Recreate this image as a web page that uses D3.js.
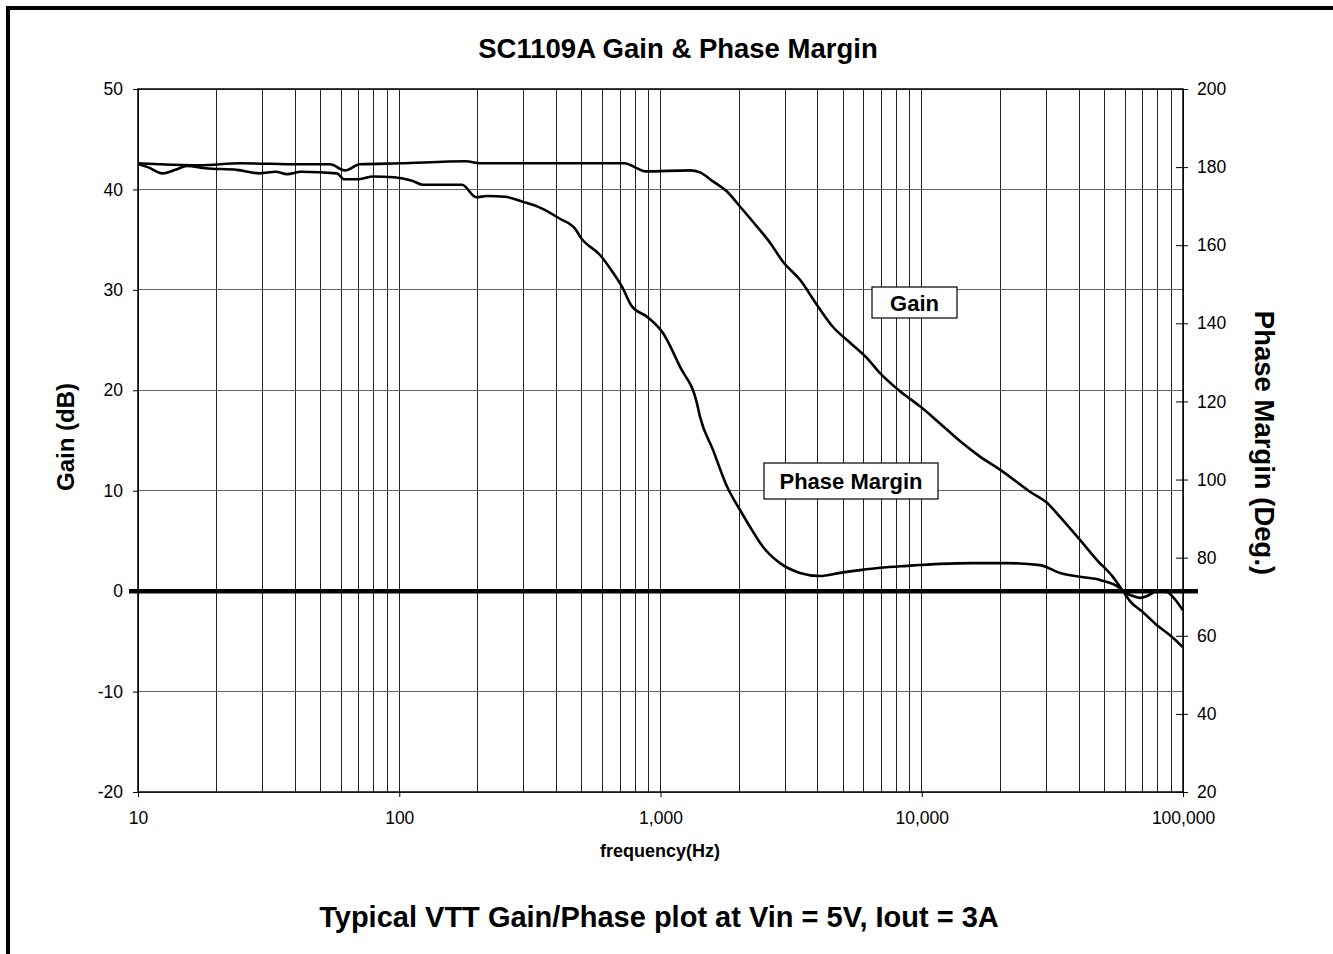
<!DOCTYPE html>
<html>
<head>
<meta charset="utf-8">
<script src="https://cdn.jsdelivr.net/npm/d3@7"></script>
<style>
  body { margin: 0; background: #fff; }
  svg text { font-family: "Liberation Sans", Arial, sans-serif; fill: #000; }
</style>
</head>
<body>
<div id="chart"></div>
<script>
// gain curve (left axis, dB)
var gainFreq = [10, 12.1, 17.3, 24.6, 41.7, 54.3, 62, 70.7, 100.7, 180, 204, 587, 731, 799, 873, 1297, 1416, 1588, 1797, 2015, 2341, 2625, 2943, 3420, 3972, 4574, 5174, 6171, 6923, 8256, 9847, 11745, 14384, 16711, 19930, 25970, 30160, 33820, 40340, 46860, 53970, 58930, 62680, 70300, 79530, 89200, 100000];
var gainDb = [42.6, 42.5, 42.4, 42.6, 42.5, 42.5, 41.9, 42.5, 42.6, 42.8, 42.6, 42.6, 42.6, 42.2, 41.8, 41.9, 41.7, 40.8, 39.8, 38.3, 36.3, 34.7, 32.8, 31.0, 28.5, 26.3, 25.0, 23.2, 21.7, 19.9, 18.4, 16.7, 14.7, 13.4, 12.1, 9.9, 8.8, 7.4, 5.1, 3.1, 1.4, 0, -1.0, -2.1, -3.4, -4.4, -5.6];

// phase margin curve (right axis, degrees)
var phaseFreq = [10, 10.9, 12.4, 14, 15.4, 18.1, 23.9, 29.1, 33.7, 37.2, 42.1, 57.8, 61.4, 70.1, 79.4, 95.5, 112, 123, 174, 197, 217, 254, 298, 349, 409, 475, 492, 587, 641, 712, 778, 888, 1022, 1187, 1379, 1416, 1588, 1797, 2015, 2341, 2404, 2867, 3420, 4078, 4865, 5802, 6923, 8779, 11745, 15713, 21200, 28360, 33820, 40340, 48120, 57400, 58930, 64380, 68460, 72810, 79530, 86860, 91570, 100000];
var phaseDeg = [180.8, 180.0, 178.4, 179.4, 180.3, 179.7, 179.3, 178.4, 178.8, 178.2, 178.8, 178.4, 176.9, 176.9, 177.6, 177.4, 176.5, 175.5, 175.5, 172.3, 172.6, 172.4, 171.1, 169.5, 166.9, 163.9, 162.2, 157.5, 154.1, 149.4, 144.3, 141.7, 137.5, 128.9, 119.5, 116.1, 107.6, 98.2, 92.2, 85.0, 83.8, 78.6, 76.1, 75.3, 76.1, 76.8, 77.4, 77.9, 78.4, 78.6, 78.6, 78.1, 76.1, 75.1, 74.3, 72.2, 71.4, 70.2, 69.7, 70.2, 71.4, 71.2, 69.9, 66.5];

var gainTicks = [-20, -10, 0, 10, 20, 30, 40, 50];
var phaseTicks = [20, 40, 60, 80, 100, 120, 140, 160, 180, 200];
var freqTicks = [10, 100, 1000, 10000, 100000];

function draw() {
    var W = 1333, H = 954;
    var left = 138, right = 1183, top = 89, bottom = 792;

    var svg = d3.select("#chart").append("svg")
        .attr("width", W)
        .attr("height", H);

    // outer frame (top and left only are visible)
    svg.append("line").attr("x1", 6).attr("x2", W).attr("y1", 8).attr("y2", 8)
       .attr("stroke", "#000").attr("stroke-width", 4);
    svg.append("line").attr("x1", 8).attr("x2", 8).attr("y1", 6).attr("y2", H)
       .attr("stroke", "#000").attr("stroke-width", 4);

    var x = d3.scaleLog().domain([10, 100000]).range([left, right]);
    var yL = d3.scaleLinear().domain([-20, 50]).range([bottom, top]);
    var yR = d3.scaleLinear().domain([20, 200]).range([bottom, top]);

    // minor + major vertical grid
    var vgrid = [];
    freqTicks.slice(0, -1).forEach(function(d) {
        for (var k = 1; k <= 9; k++) vgrid.push(d * k);
    });
    vgrid.push(100000);
    svg.append("g").selectAll("line")
       .data(vgrid).enter().append("line")
       .attr("x1", function(d) { return x(d); })
       .attr("x2", function(d) { return x(d); })
       .attr("y1", top).attr("y2", bottom)
       .attr("stroke", "#222").attr("stroke-width", 1)
       .attr("shape-rendering", "crispEdges");

    // horizontal grid
    svg.append("g").selectAll("line")
       .data(gainTicks).enter().append("line")
       .attr("x1", left).attr("x2", right)
       .attr("y1", function(d) { return yL(d); })
       .attr("y2", function(d) { return yL(d); })
       .attr("stroke", "#666").attr("stroke-width", 1)
       .attr("shape-rendering", "crispEdges");

    // plot border
    svg.append("rect")
       .attr("x", left).attr("y", top)
       .attr("width", right - left).attr("height", bottom - top)
       .attr("fill", "none").attr("stroke", "#000").attr("stroke-width", 1.5);

    // left axis
    var gL = svg.append("g").attr("transform", "translate(" + left + ",0)")
       .call(d3.axisLeft(yL).tickValues(gainTicks).tickFormat(function(d) { return String(d); })
             .tickSize(5).tickPadding(10));
    gL.select(".domain").remove();
    gL.selectAll("text").style("font-size", "17.5px");

    // right axis, ticks crossing the axis line
    var gR = svg.append("g").attr("transform", "translate(" + right + ",0)")
       .call(d3.axisRight(yR).tickValues(phaseTicks).tickSize(5).tickPadding(9));
    gR.select(".domain").remove();
    gR.selectAll(".tick line").attr("x1", -7);
    gR.selectAll("text").style("font-size", "17.5px");

    // bottom axis
    var gB = svg.append("g").attr("transform", "translate(0," + bottom + ")")
       .call(d3.axisBottom(x).tickValues(freqTicks).tickFormat(d3.format(",")).tickSize(5).tickPadding(15));
    gB.select(".domain").remove();
    gB.selectAll("text").style("font-size", "17.5px");

    // thick 0 dB line
    svg.append("line")
       .attr("x1", left - 9).attr("x2", right + 15)
       .attr("y1", yL(0)).attr("y2", yL(0))
       .attr("stroke", "#000").attr("stroke-width", 4.5);

    // curves
    var gainLine = d3.line()
        .x(function(d, i) { return x(gainFreq[i]); })
        .y(function(d) { return yL(d); })
        .curve(d3.curveMonotoneX);
    var phaseLine = d3.line()
        .x(function(d, i) { return x(phaseFreq[i]); })
        .y(function(d) { return yR(d); })
        .curve(d3.curveMonotoneX);

    svg.append("path").datum(gainDb)
       .attr("d", gainLine)
       .attr("fill", "none").attr("stroke", "#000").attr("stroke-width", 2.6)
       .attr("stroke-linejoin", "round");
    svg.append("path").datum(phaseDeg)
       .attr("d", phaseLine)
       .attr("fill", "none").attr("stroke", "#000").attr("stroke-width", 2.6)
       .attr("stroke-linejoin", "round");

    // curve labels in boxes
    var boxes = [
        { text: "Gain", x: 872, y: 287, w: 85, h: 31 },
        { text: "Phase Margin", x: 764, y: 463, w: 174, h: 36 }
    ];
    var lab = svg.append("g").selectAll("g").data(boxes).enter().append("g");
    lab.append("rect")
       .attr("x", function(d) { return d.x; }).attr("y", function(d) { return d.y; })
       .attr("width", function(d) { return d.w; }).attr("height", function(d) { return d.h; })
       .attr("fill", "#fff").attr("stroke", "#000").attr("stroke-width", 1.2);
    lab.append("text")
       .attr("x", function(d) { return d.x + d.w / 2; })
       .attr("y", function(d) { return d.y + d.h / 2 + 8; })
       .attr("text-anchor", "middle")
       .style("font-size", "22px").style("font-weight", "bold")
       .text(function(d) { return d.text; });

    // titles
    svg.append("text").attr("x", 678).attr("y", 58)
       .attr("text-anchor", "middle")
       .style("font-size", "27.5px").style("font-weight", "bold")
       .text("SC1109A Gain & Phase Margin");

    svg.append("text").attr("x", 660).attr("y", 857)
       .attr("text-anchor", "middle")
       .style("font-size", "18px").style("font-weight", "bold")
       .text("frequency(Hz)");

    svg.append("text").attr("x", 659).attr("y", 927)
       .attr("text-anchor", "middle")
       .style("font-size", "29px").style("font-weight", "bold")
       .text("Typical VTT Gain/Phase plot at Vin = 5V, Iout = 3A");

    svg.append("text")
       .attr("transform", "translate(74,437) rotate(-90)")
       .attr("text-anchor", "middle")
       .style("font-size", "24px").style("font-weight", "bold")
       .text("Gain (dB)");

    svg.append("text")
       .attr("transform", "translate(1255,443) rotate(90)")
       .attr("text-anchor", "middle")
       .style("font-size", "27.5px").style("font-weight", "bold")
       .text("Phase Margin (Deg.)");
}

window.onload = draw;
</script>
</body>
</html>
